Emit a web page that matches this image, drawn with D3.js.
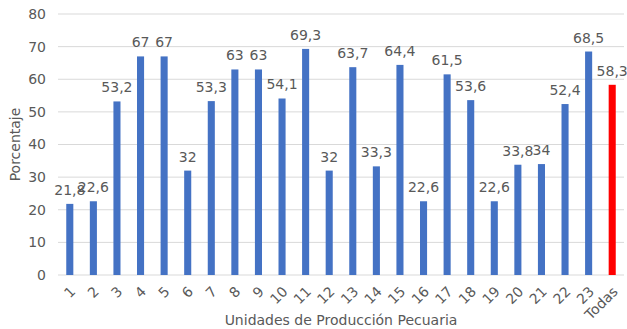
<!DOCTYPE html>
<html>
<head>
<meta charset="utf-8">
<script src="https://cdn.jsdelivr.net/npm/d3@7"></script>
<style>
  body { margin: 0; background: #fff; }
  text { font-family: "DejaVu Sans", Verdana, sans-serif; fill: #595959; }
</style>
</head>
<body>
<div id="chart"></div>
<script>
var categories = ["1","2","3","4","5","6","7","8","9","10","11","12","13","14","15","16","17","18","19","20","21","22","23","Todas"];
var values = [21.8,22.6,53.2,67,67,32,53.3,63,63,54.1,69.3,32,63.7,33.3,64.4,22.6,61.5,53.6,22.6,33.8,34,52.4,68.5,58.3];
var labels = ["21,8","22,6","53,2","67","67","32","53,3","63","63","54,1","69,3","32","63,7","33,3","64,4","22,6","61,5","53,6","22,6","33,8","34","52,4","68,5","58,3"];
var yTicks = [0,10,20,30,40,50,60,70,80];

var margin = {top: 14, right: 3, bottom: 54, left: 58},
    width = 627 - margin.left - margin.right,
    height = 329 - margin.top - margin.bottom;

var svg = d3.select("#chart")
  .append("svg")
    .attr("width", 627)
    .attr("height", 329)
  .append("g")
    .attr("transform", "translate(" + margin.left + "," + margin.top + ")");

var x = d3.scaleBand()
  .domain(categories)
  .range([0, width])
  .paddingInner(0.7)
  .paddingOuter(0.35);

var y = d3.scaleLinear()
  .domain([0, 80])
  .range([height, 0]);

// gridlines
svg.append("g")
  .selectAll("line")
  .data(yTicks)
  .enter()
  .append("line")
    .attr("x1", 0)
    .attr("x2", width)
    .attr("y1", function(d) { return y(d) })
    .attr("y2", function(d) { return y(d) })
    .attr("stroke", "#d9d9d9")
    .attr("stroke-width", 1);

// y axis labels
var yAxis = svg.append("g")
  .call(d3.axisLeft(y).tickValues(yTicks).tickSize(0).tickPadding(12));
yAxis.select(".domain").remove();
yAxis.selectAll("text")
  .style("font-size", "14px")
  .style("fill", "#595959")
  .style("font-family", "DejaVu Sans, sans-serif");

// x axis, labels turned 45 degrees
var xAxis = svg.append("g")
  .attr("transform", "translate(0," + height + ")")
  .call(d3.axisBottom(x).tickSize(0));
xAxis.select(".domain").remove();
xAxis.selectAll("text")
  .style("font-size", "14px")
  .style("fill", "#595959")
  .style("font-family", "DejaVu Sans, sans-serif")
  .style("text-anchor", "end")
  .attr("x", 0)
  .attr("y", 0)
  .attr("dy", "0.35em")
  .attr("transform", "translate(3,14) rotate(-45)");

// bars
svg.selectAll("rect.bar")
  .data(values)
  .enter()
  .append("rect")
    .attr("class", "bar")
    .attr("x", function(d, i) { return x(categories[i]) })
    .attr("y", function(d) { return y(d) })
    .attr("width", x.bandwidth())
    .attr("height", function(d) { return height - y(d) })
    .attr("fill", function(d, i) { return categories[i] == "Todas" ? "#ff0000" : "#4472c4" });

// value labels
svg.selectAll("text.lbl")
  .data(values)
  .enter()
  .append("text")
    .attr("class", "lbl")
    .attr("x", function(d, i) { return x(categories[i]) + x.bandwidth() / 2 })
    .attr("y", function(d) { return y(d) - 9 })
    .attr("text-anchor", "middle")
    .style("font-size", "14px")
    .text(function(d, i) { return labels[i] });

// axis titles
svg.append("text")
  .attr("transform", "rotate(-90)")
  .attr("x", -height / 2)
  .attr("y", -38)
  .attr("text-anchor", "middle")
  .style("font-size", "14px")
  .text("Porcentaje");

svg.append("text")
  .attr("x", width / 2)
  .attr("y", height + 50)
  .attr("text-anchor", "middle")
  .style("font-size", "14px")
  .text("Unidades de Producción Pecuaria");
</script>
</body>
</html>
